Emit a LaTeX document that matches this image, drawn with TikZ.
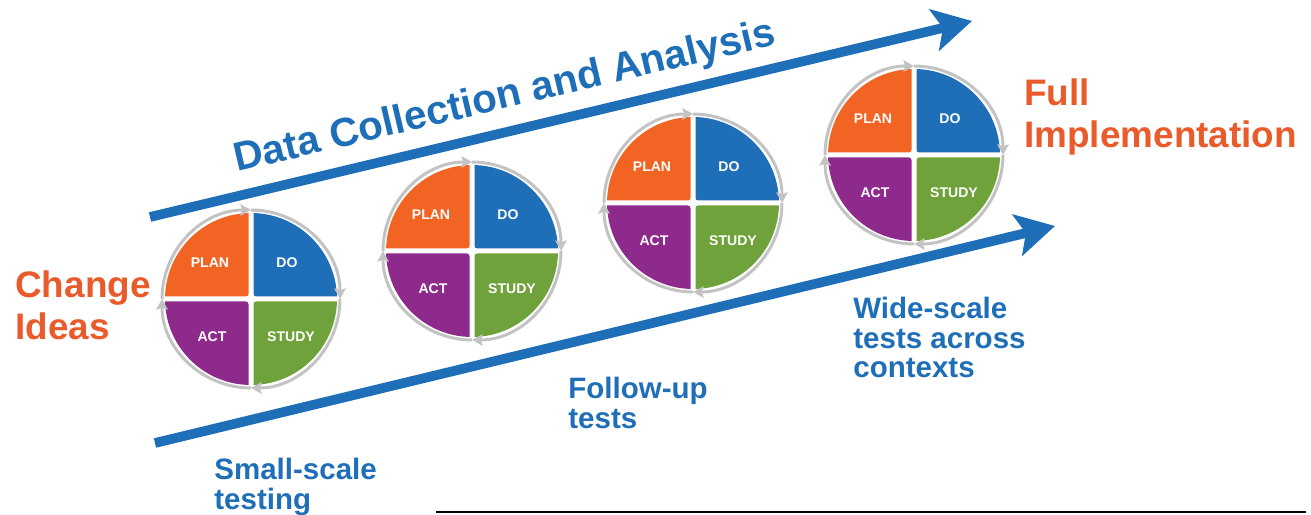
\documentclass[tikz,border=0pt]{standalone}
\usepackage{fontspec}
\setmainfont{Liberation Sans}
\usetikzlibrary{arrows.meta}
\definecolor{pdsablue}{HTML}{1F6FB8}
\definecolor{pdsaorange}{HTML}{F26424}
\definecolor{pdsapurple}{HTML}{8E2A8C}
\definecolor{pdsagreen}{HTML}{6FA23A}
\definecolor{ideaorange}{HTML}{E95B2B}
\definecolor{ringgray}{HTML}{C3C3C3}
\tikzset{
  bigarrow/.style={draw=pdsablue, line width=5.5pt,
    -{Stealth[length=22pt, width=24pt, inset=5pt, fill=pdsablue]}},
  ring/.style={draw=ringgray, line width=1.7pt,
    -{Stealth[length=6pt, width=6.5pt, inset=1pt, fill=ringgray]}},
  quad/.style={text=white, inner sep=0pt, font=\bfseries\fontsize{8}{9.6}\selectfont},
  idea/.style={text=ideaorange, inner sep=0pt, align=left, anchor=base west,
    font=\bfseries\fontsize{21}{24.4}\selectfont},
  stage/.style={text=pdsablue, inner sep=0pt, align=left, anchor=base west,
    font=\bfseries\fontsize{16.8}{16.8}\selectfont},
  title/.style={text=pdsablue, inner sep=0pt, anchor=base west,
    font=\bfseries\fontsize{23}{27}\selectfont}
}
\begin{document}
\begin{tikzpicture}[x=0.02cm, y=0.02cm]
\useasboundingbox (0,0) rectangle (1311,514);
% arrows
\coordinate (topstart) at (150,297);
\coordinate (topend) at (972,493);
\coordinate (lowstart) at (155,71);
\coordinate (lowend) at (1055,288);
\draw[bigarrow] (topstart) -- (topend);
\draw[bigarrow] (lowstart) -- (lowend);
\node (data) [title, rotate=13.3] at (237,342) {Data Collection and Analysis};
% PDSA cycles
\foreach \i/\cx/\cy in {1/251/215, 2/472/263, 3/693/311, 4/914/359} {
  \begin{scope}[shift={(\cx,\cy)}]
    \begin{scope}
      \clip (0,0) circle (86);
      \fill[pdsaorange, rounded corners=1.5pt] (-95,2.5) rectangle (-2.5,95);
      \fill[pdsablue, rounded corners=1.5pt] (2.5,2.5) rectangle (95,95);
      \fill[pdsagreen, rounded corners=1.5pt] (2.5,-2.5) rectangle (95,-95);
      \fill[pdsapurple, rounded corners=1.5pt] (-95,-2.5) rectangle (-2.5,-95);
    \end{scope}
    \draw[ring] (180:89) arc[start angle=180, end angle=90, radius=89];
    \draw[ring] (90:89) arc[start angle=90, end angle=0, radius=89];
    \draw[ring] (0:89) arc[start angle=0, end angle=-90, radius=89];
    \draw[ring] (-90:89) arc[start angle=-90, end angle=-180, radius=89];
    \node (plan\i) [quad] at (-41,36) {PLAN};
    \node (do\i) [quad] at (36,36) {DO};
    \node (act\i) [quad] at (-39,-38) {ACT};
    \node (study\i) [quad] at (40,-38) {STUDY};
  \end{scope}
}
% labels (base = last line)
\node (change) [idea] at (15,174) {Change\\Ideas};
\node (full) [idea] at (1024,366) {Full\\Implementation};
\node (small) [stage] at (214,5) {Small-scale\\testing};
\node (follow) [stage] at (568,86) {Follow-up\\tests};
\node (wide) [stage] at (853,136) {Wide-scale\\tests across\\contexts};
\coordinate (rulestart) at (436,2);
\coordinate (ruleend) at (1306,2);
\draw[line width=1.1pt] (rulestart) -- (ruleend);
\end{tikzpicture}
\end{document}
